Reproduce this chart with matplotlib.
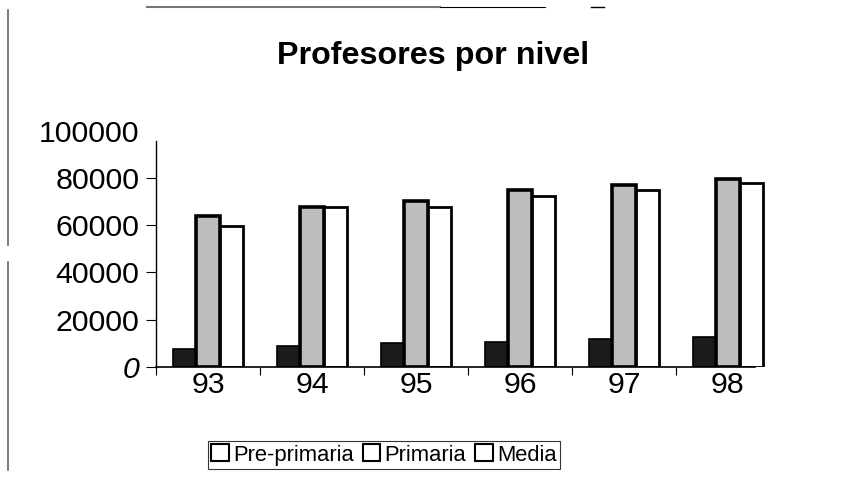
import numpy as np
import matplotlib
matplotlib.use("Agg")
import matplotlib.pyplot as plt
from matplotlib.lines import Line2D
from matplotlib.patches import Patch

plt.rcParams['font.family'] = ['Liberation Sans', 'DejaVu Sans']

years = ["93", "94", "95", "96", "97", "98"]
pre_primaria = [7500, 9000, 10000, 10500, 11800, 12700]
primaria = [63800, 67500, 70200, 74700, 76800, 79700]
media = [59500, 67500, 67500, 72200, 74700, 77600]
yticks = [0, 20000, 40000, 60000, 80000, 100000]

fig = plt.figure(figsize=(8.44, 4.83), dpi=100)
ax = fig.add_axes([156 / 844, 1 - 367 / 483, 624 / 844, 236.5 / 483])

x = np.arange(len(years))
w = 0.226
ax.bar(x - w, pre_primaria, w, color="#1c1c1c", edgecolor="black", linewidth=1.2)
ax.bar(x, primaria, w, color="#bdbdbd", edgecolor="black", linewidth=2.6)
ax.bar(x + w, media, w, color="white", edgecolor="black", linewidth=2.0)

ax.set_xlim(-0.5, 5.5)
ax.set_ylim(0, 100000)
ax.spines["top"].set_visible(False)
ax.spines["right"].set_visible(False)
ax.spines["bottom"].set_bounds(-0.5, 5.26)
ax.spines["left"].set_bounds(0, 95500)
ax.spines["left"].set_linewidth(1.0)
ax.spines["bottom"].set_linewidth(1.2)

ax.set_yticks(yticks)
ax.set_yticklabels([str(v) for v in yticks])
ax.tick_params(axis="y", length=7, width=0.8, pad=5, labelsize=21.8)
ax.yaxis.get_major_ticks()[-1].tick1line.set_visible(False)
ax.get_yticklabels()[0].set_style("italic")

ax.set_xticks(x)
ax.set_xticklabels(years)
ax.tick_params(axis="x", which="major", length=0, pad=3, labelsize=21.8)
ax.set_xticks(np.arange(-0.5, 5.0, 1.0), minor=True)
ax.tick_params(axis="x", which="minor", length=6, width=0.8)

fig.text(433 / 844, 1 - 56 / 483, "Profesores por nivel", ha="center", va="center",
         fontsize=23.2, fontweight="bold")

handles = [Patch(facecolor="white", edgecolor="black", linewidth=1.5) for _ in range(3)]
leg = fig.legend(handles, ["Pre-primaria", "Primaria", "Media"], ncol=3,
                 loc="center", bbox_to_anchor=(384 / 844, 1 - 455 / 483),
                 fontsize=15.8, frameon=True, fancybox=False, handlelength=0.8,
                 handleheight=0.8, handletextpad=0.2, columnspacing=0.4,
                 borderpad=0.15, borderaxespad=0)
leg.get_frame().set_edgecolor("black")
leg.get_frame().set_linewidth(0.8)

# scan border lines
fig.add_artist(Line2D([147 / 844, 440 / 844], [1 - 7 / 483] * 2, color="#777777", lw=1.5))
fig.add_artist(Line2D([440 / 844, 545 / 844], [1 - 7 / 483] * 2, color="black", lw=0.8))
fig.add_artist(Line2D([591 / 844, 604 / 844], [1 - 7 / 483] * 2, color="black", lw=1.0))
fig.add_artist(Line2D([8 / 844] * 2, [1 - 10 / 483, 1 - 245 / 483], color="#666666", lw=1.2))
fig.add_artist(Line2D([8 / 844] * 2, [1 - 262 / 483, 1 - 470 / 483], color="#666666", lw=1.2))

fig.savefig("out.png", dpi=100)
